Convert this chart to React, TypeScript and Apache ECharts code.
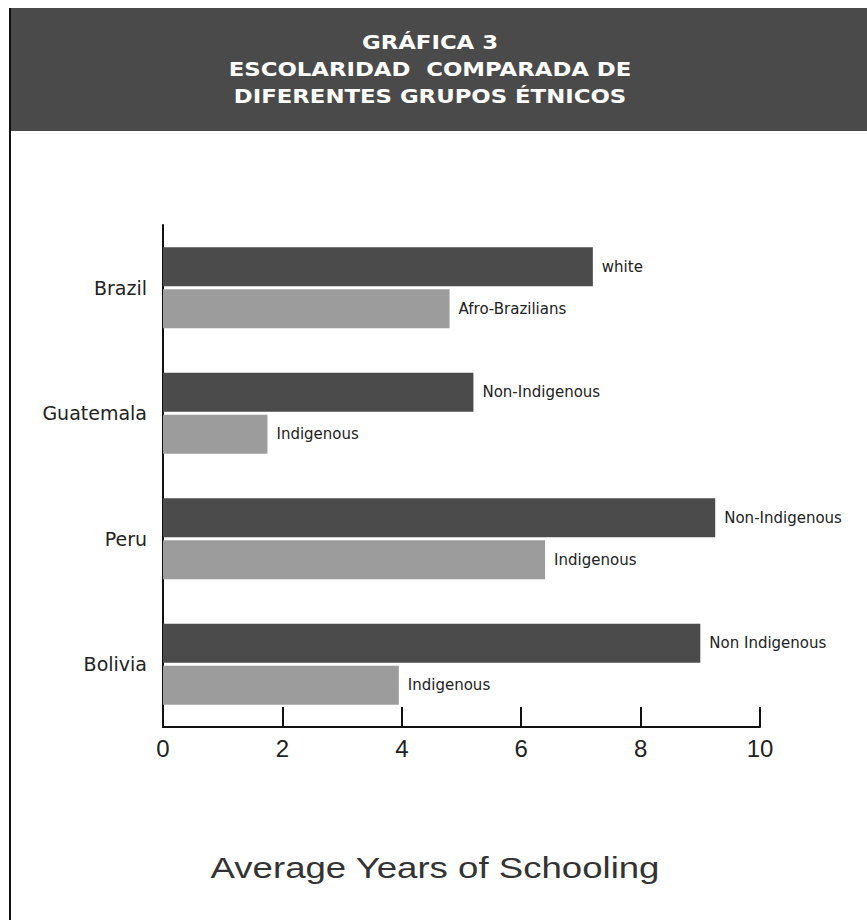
import React, { useEffect, useRef } from "react";
import * as echarts from "echarts";

const countries = ["Brazil", "Guatemala", "Peru", "Bolivia"];
const majorityValues = [7.2, 5.2, 9.25, 9.0];
const minorityValues = [4.8, 1.75, 6.4, 3.95];
const majorityLabels = ["white", "Non-Indigenous", "Non-Indigenous", "Non Indigenous"];
const minorityLabels = ["Afro-Brazilians", "Indigenous", "Indigenous", "Indigenous"];
const titleLines = ["GRÁFICA 3", "ESCOLARIDAD  COMPARADA DE", "DIFERENTES GRUPOS ÉTNICOS"];
const axisTitle = "Average Years of Schooling";

export default function App() {
  const ref = useRef<HTMLDivElement>(null);
  useEffect(() => {
    if (!ref.current) return;
    const chart = echarts.init(ref.current, null, { renderer: "svg" });
    const font = "'Liberation Sans', Arial, sans-serif";
    const dejavu = "'DejaVu Sans', sans-serif";
    const labelStyle = (names: string[]) => ({
      show: true,
      position: "right",
      distance: 9,
      fontSize: 15,
      fontFamily: dejavu,
      color: "#222",
      formatter: (p: any) => names[p.dataIndex],
    });
    chart.setOption({
      animation: false,
      backgroundColor: "#ffffff",
      grid: { left: 163, right: 107, top: 225, bottom: 193, containLabel: false },
      xAxis: {
        type: "value",
        min: 0,
        max: 10,
        interval: 2,
        axisLine: { show: true, lineStyle: { color: "#111", width: 2 } },
        axisTick: { show: true, inside: true, length: 20, lineStyle: { color: "#111", width: 2 } },
        axisLabel: { fontSize: 24, fontFamily: font, color: "#222", margin: 9 },
        splitLine: { show: false },
      },
      yAxis: {
        type: "category",
        data: countries,
        inverse: true,
        axisLine: { show: true, lineStyle: { color: "#111", width: 2 } },
        axisTick: { show: false },
        axisLabel: { fontSize: 19, fontFamily: dejavu, color: "#222", margin: 16 },
        splitLine: { show: false },
      },
      series: [
        {
          type: "bar",
          data: majorityValues,
          barWidth: 39,
          barGap: "8%",
          itemStyle: { color: "#4b4b4b" },
          label: labelStyle(majorityLabels),
        },
        {
          type: "bar",
          data: minorityValues,
          barWidth: 39,
          barGap: "8%",
          itemStyle: { color: "#9c9c9c" },
          label: labelStyle(minorityLabels),
        },
      ],
      graphic: [
        {
          type: "rect",
          shape: { x: 11, y: 8, width: 856, height: 123 },
          style: { fill: "#4a4a4a" },
          silent: true,
        },
        {
          type: "line",
          shape: { x1: 10, y1: 8, x2: 10, y2: 920 },
          style: { stroke: "#111", lineWidth: 2 },
          silent: true,
        },
        ...titleLines.map((t, i) => ({
          type: "text",
          x: 430,
          y: 43 + i * 27,
          scaleX: 1.2,
          style: {
            text: t,
            fill: "#ffffff",
            fontSize: 19,
            fontWeight: "bold",
            fontFamily: dejavu,
            textAlign: "center",
            textVerticalAlign: "middle",
          },
          silent: true,
        })),
        {
          type: "text",
          x: 435,
          y: 868,
          scaleX: 1.22,
          style: {
            text: axisTitle,
            fill: "#333",
            fontSize: 30,
            fontFamily: font,
            textAlign: "center",
            textVerticalAlign: "middle",
          },
          silent: true,
        },
      ],
    });
    return () => chart.dispose();
  }, []);
  return (
    <div
      ref={ref}
      style={{ position: "fixed", left: 0, top: 0, width: 867, height: 920, background: "#fff" }}
    />
  );
}
